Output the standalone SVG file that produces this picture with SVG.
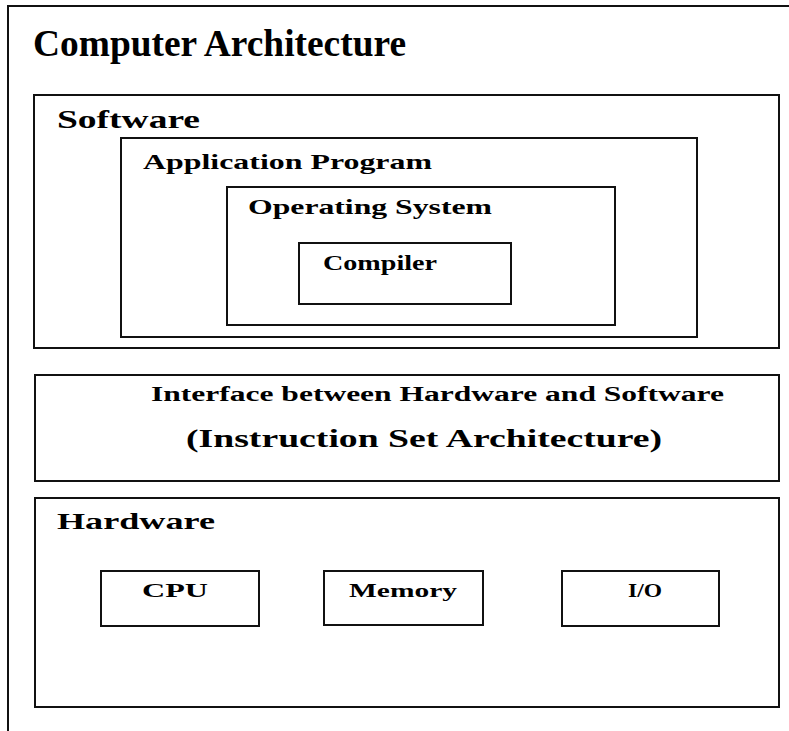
<svg xmlns="http://www.w3.org/2000/svg" width="789" height="731" viewBox="0 0 789 731">
<style>
.box{fill:#fff;stroke:#111;stroke-width:2}
.t{font-family:"Liberation Serif","Times New Roman",serif;font-weight:bold;fill:#000}
</style>
<rect width="789" height="731" fill="#fff"/>
<g id="frame">
<path d="M8,731 V6 H789" fill="none" stroke="#111" stroke-width="2"/>
<text class="t" x="33" y="56" font-size="38" textLength="373" lengthAdjust="spacingAndGlyphs">Computer Architecture</text>
</g>
<g id="software">
<rect class="box" x="34" y="95" width="745" height="253"/>
<text class="t" x="57" y="128" font-size="26" textLength="143" lengthAdjust="spacingAndGlyphs">Software</text>
</g>
<g id="application">
<rect class="box" x="121" y="138" width="576" height="199"/>
<text class="t" x="143" y="169" font-size="22" textLength="289" lengthAdjust="spacingAndGlyphs">Application Program</text>
</g>
<g id="os">
<rect class="box" x="227" y="187" width="388" height="138"/>
<text class="t" x="248" y="214" font-size="22" textLength="244" lengthAdjust="spacingAndGlyphs">Operating System</text>
</g>
<g id="compiler">
<rect class="box" x="299" y="243" width="212" height="61"/>
<text class="t" x="323" y="270" font-size="21" textLength="114" lengthAdjust="spacingAndGlyphs">Compiler</text>
</g>
<g id="isa">
<rect class="box" x="35" y="375" width="744" height="106"/>
<text class="t" x="151" y="401" font-size="20" textLength="573" lengthAdjust="spacingAndGlyphs">Interface between Hardware and Software</text>
<text class="t" x="186" y="447" font-size="25" textLength="476" lengthAdjust="spacingAndGlyphs">(Instruction Set Architecture)</text>
</g>
<g id="hardware">
<rect class="box" x="35" y="498" width="744" height="209"/>
<text class="t" x="57" y="529" font-size="23" textLength="158" lengthAdjust="spacingAndGlyphs">Hardware</text>
</g>
<g id="cpu">
<rect class="box" x="101" y="571" width="158" height="55"/>
<text class="t" x="142" y="597" font-size="19" textLength="66" lengthAdjust="spacingAndGlyphs">CPU</text>
</g>
<g id="memory">
<rect class="box" x="324" y="571" width="159" height="54"/>
<text class="t" x="349" y="597" font-size="19" textLength="108" lengthAdjust="spacingAndGlyphs">Memory</text>
</g>
<g id="io">
<rect class="box" x="562" y="571" width="157" height="55"/>
<text class="t" x="628" y="597" font-size="19" textLength="34" lengthAdjust="spacingAndGlyphs">I/O</text>
</g>
<g id="connectors"/>
</svg>
